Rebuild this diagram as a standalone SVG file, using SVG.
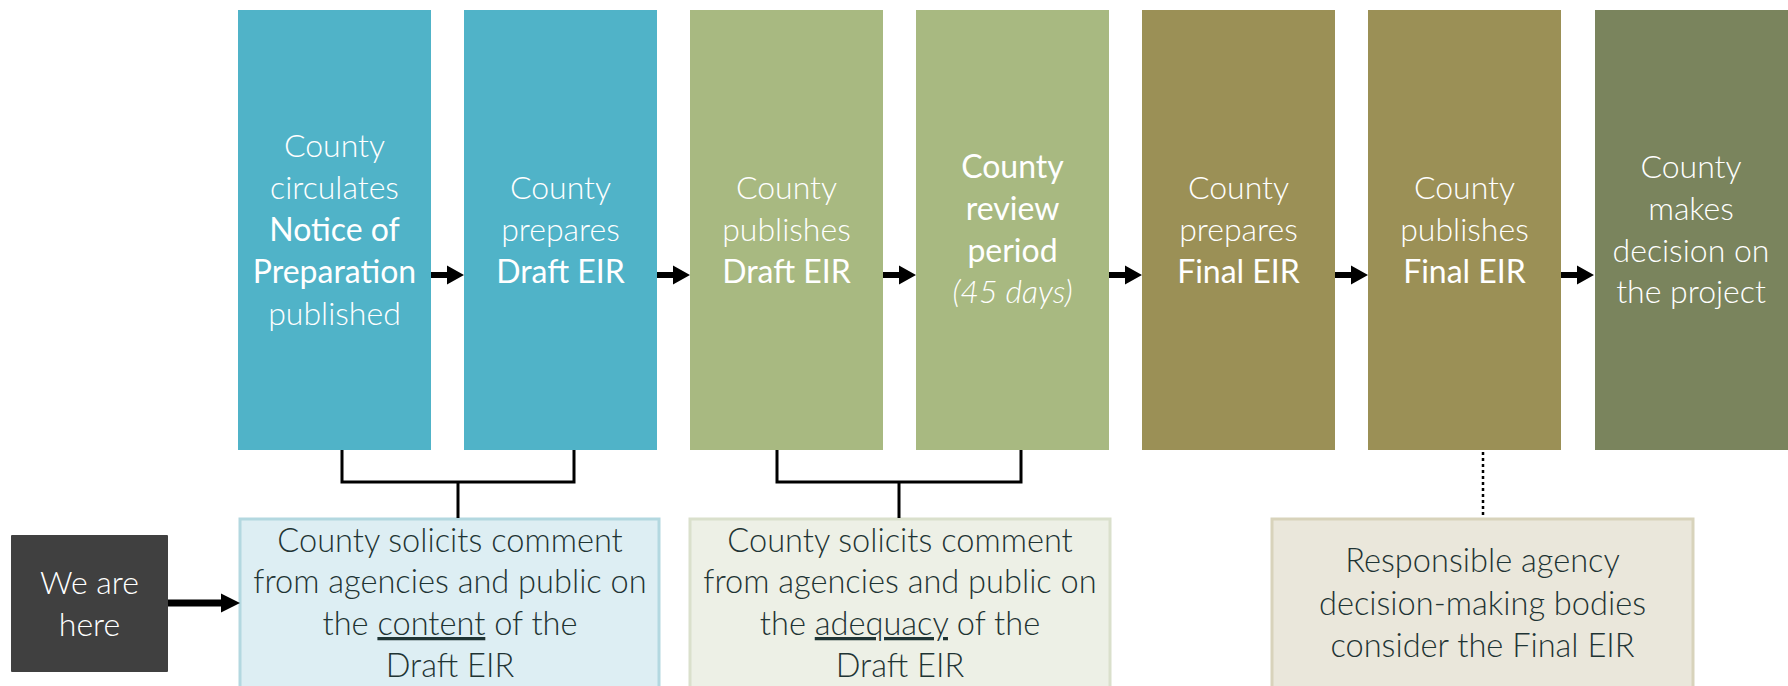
<svg xmlns="http://www.w3.org/2000/svg" xmlns:xlink="http://www.w3.org/1999/xlink" width="1788" height="686" viewBox="0 0 1788 686">
<style>
.t{font-family:Lato,"Open Sans","Liberation Sans",sans-serif;text-anchor:middle}
.top{font-size:32px;fill:#ffffff;font-weight:300}
.b{font-weight:400}
.i{font-style:italic}
.low{font-size:32.6px;fill:#1f3434;font-weight:300}
.teal{fill:#50b3c8}
.lg{fill:#a8b981}
.ol{fill:#9b9056}
.dg{fill:#7a845d}
.ln{fill:none;stroke:#000;stroke-width:3}
</style>
<defs>
<path id="arr" d="M0,-3 H16 V-9.5 L33,0 L16,9.5 V3 H0 Z" fill="#000"/>
</defs>
<rect width="1788" height="686" fill="#ffffff"/>
<g id="n1"><rect class="teal" x="238" y="10" width="193" height="440"/>
<text class="t top" x="334.5"><tspan x="334.5" y="157">County</tspan><tspan x="334.5" y="199">circulates</tspan><tspan x="334.5" y="241" class="b">Notice of</tspan><tspan x="334.5" y="283" class="b">Preparation</tspan><tspan x="334.5" y="325">published</tspan></text></g>
<g id="n2"><rect class="teal" x="464" y="10" width="193" height="440"/>
<text class="t top"><tspan x="560.5" y="199">County</tspan><tspan x="560.5" y="241">prepares</tspan><tspan x="560.5" y="283" class="b">Draft EIR</tspan></text></g>
<g id="n3"><rect class="lg" x="690" y="10" width="193" height="440"/>
<text class="t top"><tspan x="786.5" y="199">County</tspan><tspan x="786.5" y="241">publishes</tspan><tspan x="786.5" y="283" class="b">Draft EIR</tspan></text></g>
<g id="n4"><rect class="lg" x="916" y="10" width="193" height="440"/>
<text class="t top"><tspan x="1012.5" y="178" class="b">County</tspan><tspan x="1012.5" y="220" class="b">review</tspan><tspan x="1012.5" y="262" class="b">period</tspan><tspan x="1012.5" y="303" class="i">(45 days)</tspan></text></g>
<g id="n5"><rect class="ol" x="1142" y="10" width="193" height="440"/>
<text class="t top"><tspan x="1238.5" y="199">County</tspan><tspan x="1238.5" y="241">prepares</tspan><tspan x="1238.5" y="283" class="b">Final EIR</tspan></text></g>
<g id="n6"><rect class="ol" x="1368" y="10" width="193" height="440"/>
<text class="t top"><tspan x="1464.5" y="199">County</tspan><tspan x="1464.5" y="241">publishes</tspan><tspan x="1464.5" y="283" class="b">Final EIR</tspan></text></g>
<g id="n7"><rect class="dg" x="1595" y="10" width="194" height="440"/>
<text class="t top"><tspan x="1691" y="178">County</tspan><tspan x="1691" y="220">makes</tspan><tspan x="1691" y="262">decision on</tspan><tspan x="1691" y="303">the project</tspan></text></g>
<g id="here"><rect x="11" y="535" width="157" height="137" fill="#404040" rx="1"/>
<text class="t" style="font-size:32px;fill:#fff;font-weight:300"><tspan x="89.5" y="594">We are</tspan><tspan x="89.5" y="636">here</tspan></text></g>
<g id="c1"><rect x="240" y="519" width="419" height="200" fill="#ddeef3" stroke="#b3d8e0" stroke-width="3"/>
<text class="t low"><tspan x="450" y="552">County solicits comment</tspan><tspan x="450" y="593">from agencies and public on</tspan><tspan x="450" y="635">the <tspan style="text-decoration:underline">content</tspan> of the</tspan><tspan x="450" y="677">Draft EIR</tspan></text></g>
<g id="c2"><rect x="690" y="519" width="420" height="200" fill="#edf0e6" stroke="#dae0cc" stroke-width="3"/>
<text class="t low"><tspan x="900" y="552">County solicits comment</tspan><tspan x="900" y="593">from agencies and public on</tspan><tspan x="900" y="635">the <tspan style="text-decoration:underline">adequacy</tspan> of the</tspan><tspan x="900" y="677">Draft EIR</tspan></text></g>
<g id="c3"><rect x="1272" y="519" width="421" height="200" fill="#eae7db" stroke="#d8d3bb" stroke-width="3"/>
<text class="t low"><tspan x="1482.5" y="572">Responsible agency</tspan><tspan x="1482.5" y="615">decision-making bodies</tspan><tspan x="1482.5" y="657">consider the Final EIR</tspan></text></g>
<g id="connectors">
<use xlink:href="#arr" href="#arr" x="431" y="275"/>
<use xlink:href="#arr" href="#arr" x="657" y="275"/>
<use xlink:href="#arr" href="#arr" x="883" y="275"/>
<use xlink:href="#arr" href="#arr" x="1109" y="275"/>
<use xlink:href="#arr" href="#arr" x="1335" y="275"/>
<use xlink:href="#arr" href="#arr" x="1561" y="275"/>
<path d="M168,599.5 H221 V593.5 L240,603 L221,612.5 V606.5 H168 Z" fill="#000"/>
<path class="ln" d="M342,450 V482 H574 V450"/>
<path class="ln" d="M458,482 V518"/>
<path class="ln" d="M777,450 V482 H1021 V450"/>
<path class="ln" d="M899,482 V518"/>
<path d="M1483,452 V517" fill="none" stroke="#000" stroke-width="2.5" stroke-dasharray="3,3"/>
</g>
</svg>
